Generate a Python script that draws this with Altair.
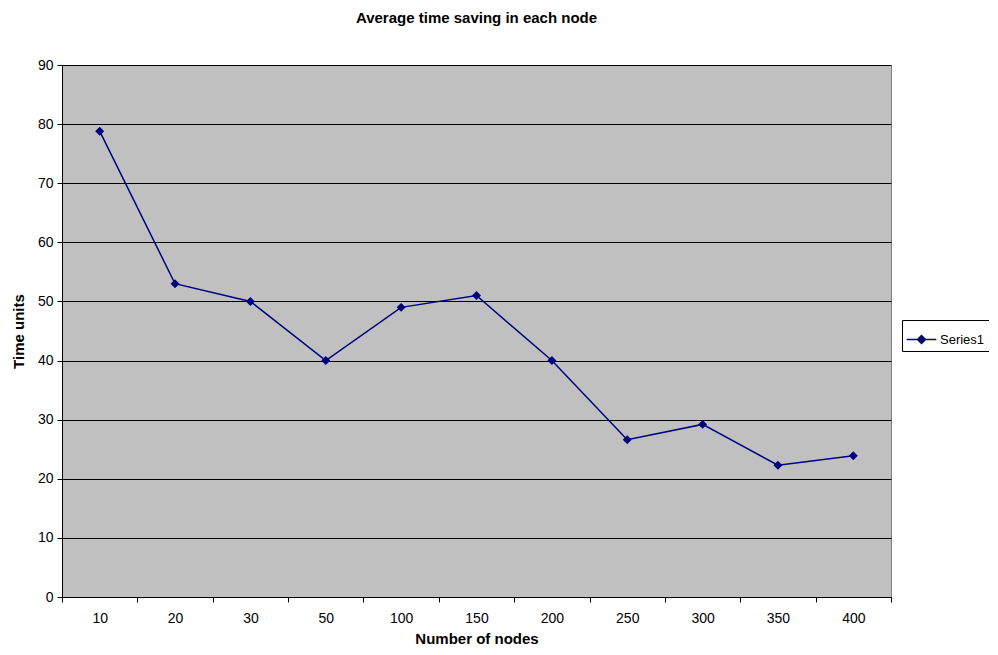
import altair as alt
import pandas as pd

nodes = ["10", "20", "30", "50", "100", "150", "200", "250", "300", "350", "400"]
time_units = [78.8, 53.0, 50.0, 40.0, 49.0, 51.0, 40.0, 26.6, 29.2, 22.3, 23.9]
series = ["Series1"] * len(nodes)
y_ticks = [0, 10, 20, 30, 40, 50, 60, 70, 80, 90]

df = pd.DataFrame({"nodes": nodes, "time": time_units, "series": series})

FONT = "Liberation Sans"
NAVY = "#000080"

x = alt.X(
    "nodes:N",
    sort=nodes,
    title="Number of nodes",
    scale=alt.Scale(type="band", paddingInner=0, paddingOuter=0),
    axis=alt.Axis(
        labelAngle=0, tickBand="extent", grid=False, domainColor="black",
        tickColor="black", tickSize=5, labelPadding=9, labelFontSize=14,
        labelColor="black", titleFontSize=15, titleFontWeight="bold",
        titlePadding=6, titleColor="black", labelFont=FONT, titleFont=FONT,
    ),
)
y = alt.Y(
    "time:Q",
    title="Time units",
    scale=alt.Scale(domain=[0, 90], nice=False),
    axis=alt.Axis(
        values=y_ticks, grid=True, gridColor="black", gridOpacity=1,
        domainColor="black", tickColor="black", tickSize=5, labelPadding=4,
        labelFontSize=14, labelColor="black", titleFontSize=15,
        titleFontWeight="bold", titlePadding=11, titleColor="black",
        labelFont=FONT, titleFont=FONT,
    ),
)
color = alt.Color(
    "series:N",
    scale=alt.Scale(range=[NAVY]),
    legend=alt.Legend(
        title=None, orient="none", legendX=840, legendY=255,
        strokeColor="black", fillColor="white", padding=4,
        symbolType="M-1,0L1,0M0,-0.27L0.27,0L0,0.27L-0.27,0Z",
        symbolSize=870, symbolStrokeWidth=1.5, symbolFillColor=NAVY,
        labelFontSize=13, labelFont=FONT, labelColor="black", labelOffset=3,
    ),
)

base = alt.Chart(df).encode(x=x, y=y, color=color)
line = base.mark_line(strokeWidth=1.5)
pts = base.mark_point(shape="diamond", filled=True, size=80, opacity=1)

chart = (
    alt.layer(line, pts)
    .properties(
        width=829,
        height=532,
        autosize=alt.AutoSizeParams(type="none"),
        padding={"left": 54, "top": 57, "right": 98, "bottom": 50},
        background="white",
        title=alt.Title(
            "Average time saving in each node", font=FONT, fontSize=15,
            fontWeight="bold", color="black", offset=32,
        ),
    )
    .configure_view(fill="#C0C0C0", stroke="#808080", strokeWidth=1)
)

chart.save("out.html", embed_options={"renderer": "svg", "actions": False})
